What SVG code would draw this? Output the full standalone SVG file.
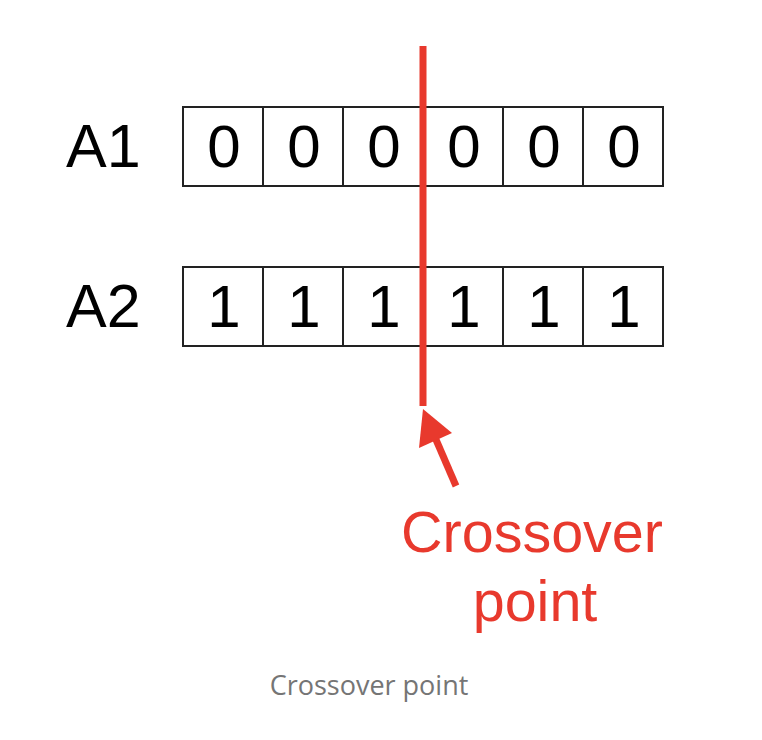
<svg xmlns="http://www.w3.org/2000/svg" width="762" height="740" viewBox="0 0 762 740">
<style>
.cell{fill:#fff;stroke:#222;stroke-width:2}
.dig{font-family:"Liberation Sans",Arial,sans-serif;font-size:60px;fill:#000;text-anchor:middle}
.lbl{font-family:"Liberation Sans",Arial,sans-serif;font-size:61px;fill:#000}
.red{font-family:"Liberation Sans",Arial,sans-serif;font-size:57.5px;fill:#e8392d;text-anchor:middle}
.cap{font-family:"Open Sans","Noto Sans",sans-serif;font-size:27px;fill:#757575;text-anchor:middle}
</style>
<rect width="762" height="740" fill="#fff"/>
<g id="A1">
<text class="lbl" x="66" y="167">A1</text>
<rect class="cell" x="183" y="107" width="80" height="79"/>
<rect class="cell" x="263" y="107" width="80" height="79"/>
<rect class="cell" x="343" y="107" width="80" height="79"/>
<rect class="cell" x="423" y="107" width="80" height="79"/>
<rect class="cell" x="503" y="107" width="80" height="79"/>
<rect class="cell" x="583" y="107" width="80" height="79"/>
<text class="dig" x="224" y="167">0</text>
<text class="dig" x="304" y="167">0</text>
<text class="dig" x="384" y="167">0</text>
<text class="dig" x="464" y="167">0</text>
<text class="dig" x="544" y="167">0</text>
<text class="dig" x="624" y="167">0</text>
</g>
<g id="A2">
<text class="lbl" x="66" y="327">A2</text>
<rect class="cell" x="183" y="267" width="80" height="79"/>
<rect class="cell" x="263" y="267" width="80" height="79"/>
<rect class="cell" x="343" y="267" width="80" height="79"/>
<rect class="cell" x="423" y="267" width="80" height="79"/>
<rect class="cell" x="503" y="267" width="80" height="79"/>
<rect class="cell" x="583" y="267" width="80" height="79"/>
<text class="dig" x="224" y="327">1</text>
<text class="dig" x="304" y="327">1</text>
<text class="dig" x="384" y="327">1</text>
<text class="dig" x="464" y="327">1</text>
<text class="dig" x="544" y="327">1</text>
<text class="dig" x="624" y="327">1</text>
</g>
<g id="connectors">
<line x1="423" y1="46" x2="423" y2="406" stroke="#e8392d" stroke-width="7"/>
<line x1="456" y1="486" x2="434" y2="435" stroke="#e8392d" stroke-width="7"/>
<polygon points="423,409 452,433 419,448" fill="#e8392d"/>
</g>
<g id="label">
<text class="red" x="532" y="552">Crossover</text>
<text class="red" x="535" y="621">point</text>
</g>
<text class="cap" x="369" y="695">Crossover point</text>
</svg>
